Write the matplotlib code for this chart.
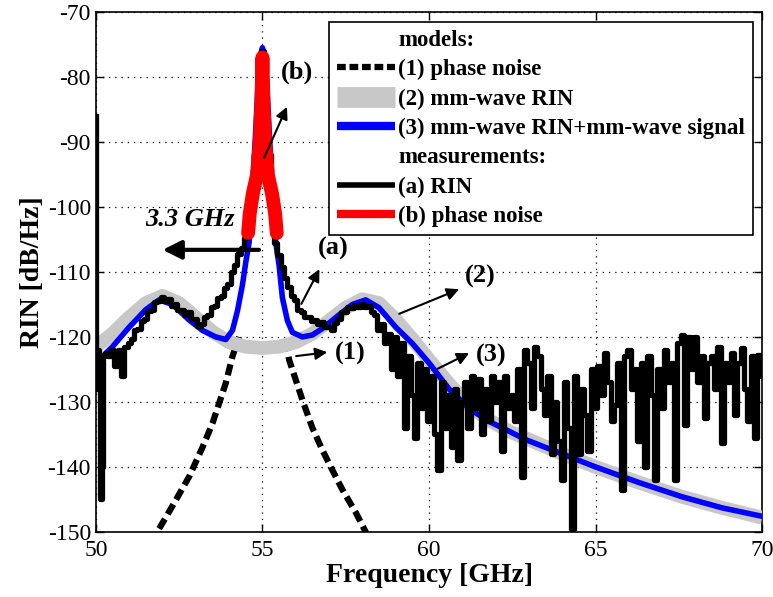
import matplotlib
matplotlib.use("Agg")
import matplotlib.pyplot as plt
from matplotlib.lines import Line2D

plt.rcParams['font.family'] = ['Liberation Serif', 'DejaVu Serif']
plt.rcParams['axes.unicode_minus'] = False

# ---------------- data ----------------
# (1) phase noise model (dashed)
pn_model_f = [51.9, 52.3, 52.8, 53.2, 53.5, 53.9, 54.1, 54.3,
              None,
              55.7, 55.8, 56.2, 56.5, 56.8, 57.1, 57.4, 57.8, 58.15]
pn_model_v = [-149.5, -146.0, -141.5, -137.0, -133.3, -127.1, -123.0, -120.0,
              None,
              -120.5, -123.5, -129.7, -134.0, -137.4, -140.5, -143.5, -147.0, -150.5]

# (2) mm-wave RIN model (grey)
rin_model_f = [50.0, 50.5, 51.0, 51.5, 52.0, 52.5, 53.0, 53.5, 54.0, 54.5, 55.0,
               55.5, 56.0, 56.5, 57.0, 57.5, 58.0, 58.5, 59.0, 59.5, 60.0, 60.6,
               61.2, 61.8, 62.4, 63.0, 64.0, 65.0, 66.3, 67.6, 68.8, 70.0]
rin_model_v = [-121.5, -119.5, -117.0, -114.8, -113.7, -114.8, -117.0, -119.2,
               -120.8, -121.5, -121.7, -121.5, -120.8, -119.5, -117.5, -115.5,
               -114.2, -114.8, -117.3, -120.3, -123.5, -127.2, -130.5, -132.8,
               -134.5, -135.8, -138.0, -140.0, -142.4, -144.6, -146.3, -147.8]

# (3) mm-wave RIN + mm-wave signal model (blue)
sig_model_f = [50.0, 50.2, 50.5, 51.0, 51.5, 51.9, 52.3, 52.8, 53.2, 53.6, 53.9,
               54.1, 54.25, 54.4, 54.5, 54.6, 54.7, 54.78, 54.87, 54.95, 55.0,
               55.05, 55.13, 55.22, 55.3, 55.4, 55.5, 55.6, 55.75, 55.9, 56.2,
               56.5, 56.8, 57.3, 57.7, 58.1, 58.5, 59.0, 59.5, 60.0, 60.6, 61.2,
               61.8, 62.4, 62.9, 64.0, 65.0, 66.3, 67.6, 68.8, 70.0]
sig_model_v = [-124.5, -123.0, -121.5, -118.5, -115.8, -114.3, -115.0, -117.4,
               -119.0, -120.0, -120.4, -119.0, -116.0, -112.0, -108.5, -105.5,
               -97.0, -90.0, -81.0, -76.5, -75.5, -76.5, -81.0, -90.0, -97.0,
               -105.5, -109.0, -114.0, -117.5, -119.3, -120.0, -119.7, -118.7,
               -116.6, -115.0, -114.3, -115.5, -118.5, -121.0, -124.0, -128.0,
               -131.0, -133.0, -134.5, -135.8, -138.0, -140.0, -142.4, -144.6,
               -146.3, -147.6]

# (b) phase noise measurement (red)
pn_meas_f = [54.57, 54.62, 54.71, 54.84, 54.92, 54.97, 55.0, 55.03, 55.08,
             55.16, 55.29, 55.38, 55.43]
pn_meas_v = [-104.0, -101.0, -98.0, -95.0, -90.0, -84.0, -77.0, -84.0, -90.0,
             -95.0, -98.0, -101.0, -104.0]

# (a) RIN measurement (black)
rin_meas_f = [50.0, 50.03, 50.07, 50.1, 50.15, 50.2, 50.25, 50.3, 50.4, 50.5,
              50.6, 50.7, 50.8, 50.9, 51.0, 51.1, 51.2, 51.3, 51.4, 51.5, 51.6,
              51.7, 51.8, 51.9, 52.0, 52.1, 52.2, 52.3, 52.4, 52.5, 52.6, 52.7,
              52.8, 52.9, 53.0, 53.1, 53.2, 53.3, 53.4, 53.5, 53.6, 53.7, 53.8,
              53.9, 54.0, 54.1, 54.2, 54.3, 54.4, 54.5, 54.6, 54.7, 54.8, 54.9,
              55.0, 55.1, 55.2, 55.3, 55.4, 55.5, 55.6, 55.7, 55.8, 55.9, 56.0,
              56.1, 56.2, 56.3, 56.4, 56.5, 56.6, 56.7, 56.8, 56.9, 57.0, 57.1,
              57.2, 57.3, 57.4, 57.5, 57.6, 57.7, 57.8, 57.9, 58.0, 58.1, 58.2,
              58.3, 58.4, 58.5, 58.6, 58.7, 58.8, 58.9,
              59.0, 59.1, 59.2, 59.3, 59.4, 59.5, 59.6, 59.7, 59.8, 59.9,
              60.0, 60.1, 60.2, 60.3, 60.4, 60.5, 60.6, 60.7, 60.8, 60.9,
              61.0, 61.1, 61.2, 61.3, 61.4, 61.5, 61.6, 61.7, 61.8, 61.9,
              62.0, 62.1, 62.2, 62.3, 62.4, 62.5, 62.6, 62.7, 62.8, 62.9,
              63.0, 63.1, 63.2, 63.3, 63.4, 63.5, 63.6, 63.7, 63.8, 63.9,
              64.0, 64.1, 64.2, 64.3, 64.4, 64.5, 64.6, 64.7, 64.8, 64.9,
              65.0, 65.1, 65.2, 65.3, 65.4, 65.5, 65.6, 65.7, 65.8, 65.9,
              66.0, 66.1, 66.2, 66.3, 66.4, 66.5, 66.6, 66.7, 66.8, 66.9,
              67.0, 67.1, 67.2, 67.3, 67.4, 67.5, 67.6, 67.7, 67.8, 67.9,
              68.0, 68.1, 68.2, 68.3, 68.4, 68.5, 68.6, 68.7, 68.8, 68.9,
              69.0, 69.1, 69.2, 69.3, 69.4, 69.5, 69.6, 69.7, 69.8, 69.9, 70.0]
rin_meas_v = [-86.0, -128.0, -122.0, -123.5, -145.0, -140.0, -123.0, -122.5,
              -123.0, -122.0, -124.5, -122.0, -126.0, -121.5, -121.0, -120.3,
              -119.0, -118.8, -117.5, -117.2, -116.0, -115.8, -114.6, -114.5,
              -113.8, -114.4, -114.2, -115.2, -115.0, -115.9, -115.8, -116.6,
              -116.2, -117.2, -117.3, -118.3, -118.0, -117.0, -116.6, -115.4,
              -115.2, -114.0, -113.7, -112.4, -111.9, -110.0, -108.9, -107.3,
              -106.3, -104.8, -103.5, -98.0, -92.0, -84.0, -76.0, -84.0, -92.0,
              -100.0, -105.5, -107.4, -109.3, -111.0, -112.3, -113.7, -114.3,
              -115.8, -116.1, -117.0, -116.9, -117.5, -117.4, -118.0, -117.7,
              -118.5, -118.5, -119.0, -117.8, -117.2, -116.2, -116.2, -115.4,
              -115.6, -115.1, -115.4, -114.9, -115.4, -115.2, -116.2, -116.6,
              -119.0, -118.0, -121.0, -119.5, -125.0,
              -120.0, -126.0, -121.0, -134.0, -123.0, -129.0, -135.5, -124.0, -131.0, -125.0,
              -133.0, -126.0, -135.0, -140.5, -127.0, -134.0, -129.0, -137.0, -128.0, -139.0,
              -130.0, -127.0, -134.0, -126.0, -131.0, -126.5, -135.0, -128.0, -133.0, -126.0,
              -130.0, -127.0, -137.5, -126.0, -131.0, -129.0, -133.0, -125.0, -141.5, -122.0,
              -124.0, -131.0, -121.5, -123.0, -128.0, -132.0, -126.0, -138.0, -130.0, -136.0,
              -142.0, -127.0, -134.0, -149.5, -126.0, -138.0, -128.0, -132.0, -137.5, -125.0,
              -131.0, -124.5, -129.0, -122.5, -127.0, -133.0, -130.5, -124.0, -143.5, -123.0,
              -122.0, -128.0, -125.0, -136.0, -124.0, -140.0, -123.0, -129.0, -142.0, -125.0,
              -131.0, -122.0, -127.0, -124.0, -142.0, -121.0, -119.7, -133.5, -120.0, -125.0,
              -120.0, -127.0, -123.0, -132.5, -124.0, -123.0, -128.0, -121.5, -136.3, -124.0,
              -127.0, -122.5, -132.0, -124.0, -121.7, -128.0, -133.0, -123.0, -135.6, -122.8, -126.0]

x_ticks = [50, 55, 60, 65, 70]
y_ticks = [-150, -140, -130, -120, -110, -100, -90, -80, -70]

legend_labels = ['models:', '(1) phase noise', '(2) mm-wave RIN',
                 '(3) mm-wave RIN+mm-wave signal', 'measurements:',
                 '(a) RIN', '(b) phase noise']

# ---------------- figure ----------------
fig = plt.figure(figsize=(7.73, 5.97), dpi=100)
ax = fig.add_axes([0.124, 0.109, 0.862, 0.871])

ax.plot(pn_model_f, pn_model_v, color='k', lw=4.5, linestyle=(0, (1.8, 0.9)), zorder=2)
ax.plot(rin_model_f, rin_model_v, color='#c8c8c8', lw=10, solid_capstyle='butt', zorder=3)
ax.plot(sig_model_f, sig_model_v, color='#0000ff', lw=4, zorder=4)
ax.plot(rin_meas_f, rin_meas_v, color='k', lw=3.8, drawstyle='steps-mid', zorder=5)
ax.plot(pn_meas_f, pn_meas_v, color='#ff0000', lw=10, solid_capstyle='round', zorder=6)

ax.set_xlim(50, 70)
ax.set_ylim(-150, -70)
ax.set_xticks(x_ticks)
ax.set_yticks(y_ticks)
ax.tick_params(direction='in', top=True, right=True, labelsize=17, length=6, width=1)
ax.tick_params(axis='x', pad=6)
for s in ax.spines.values():
    s.set_linewidth(1.2)
ax.grid(True, linestyle=(0, (1, 4)), color='k', lw=0.9)
ax.set_xlabel('Frequency [GHz]', fontsize=20, fontweight='bold', labelpad=1)
ax.set_ylabel('RIN [dB/Hz]', fontsize=20, fontweight='bold', labelpad=2)

# annotations
ak = dict(arrowstyle='-|>', color='k', lw=1.5, mutation_scale=18)
fs_ann = 19
ax.annotate('', xy=(55.77, -84.2), xytext=(55.02, -92.8), arrowprops=ak, zorder=7)
ax.text(56.05, -79.3, '(b)', fontsize=fs_ann, fontweight='bold', ha='center', va='center')
ax.annotate('', xy=(51.92, -106.6), xytext=(54.98, -106.6),
            arrowprops=dict(arrowstyle='-|>', color='k', lw=3, mutation_scale=28), zorder=7)
ax.text(52.82, -102.0, '3.3 GHz', fontsize=fs_ann, fontweight='bold', style='italic',
        ha='center', va='center')
ax.annotate('', xy=(56.75, -109.2), xytext=(56.13, -115.3), arrowprops=ak, zorder=7)
ax.text(57.13, -106.4, '(a)', fontsize=fs_ann, fontweight='bold', ha='center', va='center')
ax.annotate('', xy=(60.98, -112.5), xytext=(59.03, -116.6), arrowprops=ak, zorder=7)
ax.text(61.53, -110.7, '(2)', fontsize=fs_ann, fontweight='bold', ha='center', va='center')
ax.annotate('', xy=(61.28, -122.3), xytext=(60.18, -125.1), arrowprops=ak, zorder=7)
ax.text(61.88, -122.8, '(3)', fontsize=fs_ann, fontweight='bold', ha='center', va='center')
ax.annotate('', xy=(57.03, -122.3), xytext=(55.93, -123.0), arrowprops=ak, zorder=7)
ax.text(57.63, -122.5, '(1)', fontsize=fs_ann, fontweight='bold', ha='center', va='center')

# legend
handles = [Line2D([], [], color='none'),
           Line2D([], [], color='k', lw=4.5, linestyle=(0, (1.4, 0.6))),
           Line2D([], [], color='#c8c8c8', lw=15, solid_capstyle='butt'),
           Line2D([], [], color='#0000ff', lw=6, solid_capstyle='butt'),
           Line2D([], [], color='none'),
           Line2D([], [], color='k', lw=4, solid_capstyle='butt'),
           Line2D([], [], color='#ff0000', lw=6, solid_capstyle='butt')]
leg = ax.legend(handles, legend_labels, loc='upper right',
                bbox_to_anchor=(0.986, 0.981), fancybox=False, framealpha=1,
                edgecolor='k', prop=dict(size=16.5, weight='bold'),
                handlelength=2.55, handletextpad=0.12, labelspacing=0.36,
                borderpad=0.35, borderaxespad=0)
leg.get_frame().set_linewidth(1.2)
leg.set_zorder(10)

fig.savefig('out.png', dpi=100)
